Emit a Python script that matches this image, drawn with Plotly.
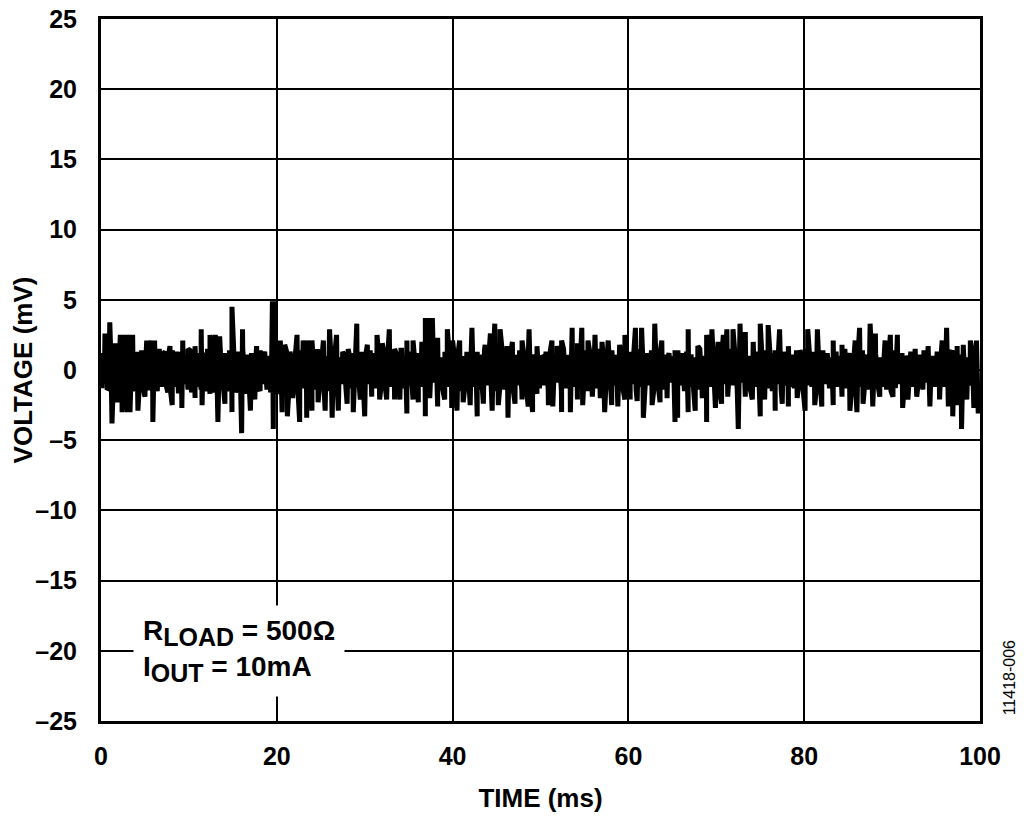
import plotly.graph_objects as go

# Upper excursions (time ms, voltage mV)
hi_t = [0.45, 1.0, 1.6, 2.2, 2.7, 3.1, 3.6, 4.1, 4.7, 5.2, 5.7, 6.1, 6.7, 7.3, 7.85, 8.6, 9.3, 9.9,
        10.7, 11.4, 11.8, 12.4, 13.0, 13.5, 14.1, 14.9, 15.5, 16.1, 16.7, 17.7, 18.4, 19.5, 19.8,
        20.4, 20.9, 21.5, 22.3, 23.0, 23.5, 24.0, 24.6, 25.3, 26.0, 26.8, 27.5, 28.3, 29.1, 29.7,
        30.3, 30.8, 31.4, 32.0, 32.8, 33.4, 34.2, 34.8, 35.5, 36.1, 36.5, 36.9, 37.3, 37.7, 38.3,
        39.4, 40.0, 40.8, 41.6, 42.2, 42.8, 43.7, 44.3, 44.8, 45.4, 46.2, 46.8, 47.3, 47.9, 48.7,
        49.1, 49.6, 50.3, 51.3, 51.9, 52.4, 53.0, 53.6, 54.2, 54.7, 55.4, 56.2, 57.0, 57.7, 58.5,
        59.0, 59.6, 60.2, 60.8, 61.5, 62.2, 63.0, 63.8, 64.5, 65.3, 65.5, 66.1, 66.8, 67.9, 68.9,
        69.5, 70.2, 70.8, 71.2, 71.9, 72.7, 73.3, 74.2, 75.0, 75.9, 76.7, 77.2, 78.2, 79.0, 79.5,
        80.4, 81.5, 82.0, 83.3, 84.3, 85.0, 85.8, 86.3, 86.9, 87.5, 88.1, 88.6, 89.2, 89.8, 90.6,
        91.1, 91.7, 92.6, 93.4, 94.1, 95.1, 95.7, 96.2, 96.8, 97.4, 98.1, 98.9, 99.6]
hi_v = [2.6, 3.4, 1.9, 2.5, 2.5, 2.5, 2.5, 1.3, 0.9, 2.1, 2.1, 2.1, 0.9, 1.3, 1.7, 1.3, 2.1, 1.5,
        1.7, 2.9, 1.2, 2.5, 2.5, 2.4, 0.9, 4.5, 0.9, 2.9, 0.7, 1.7, 0.9, 4.9, 4.9,
        2.1, 1.8, 1.3, 2.5, 2.1, 2.1, 2.1, 1.2, 2.1, 2.9, 2.5, 1.3, 0.9, 3.3, 0.9,
        1.8, 0.9, 2.5, 1.9, 2.9, 1.5, 1.4, 2.1, 2.1, 0.9, 2.0, 3.7, 3.7, 3.7, 2.3,
        2.9, 2.1, 2.1, 0.9, 3.0, 1.3, 1.8, 2.6, 3.3, 2.9, 1.7, 2.0, 0.9, 2.1, 2.9,
        0.9, 1.7, 0.9, 2.1, 1.7, 2.1, 0.9, 3.0, 1.9, 3.0, 2.1, 2.5, 2.0, 2.1, 0.9,
        1.8, 2.5, 0.9, 3.0, 3.0, 0.9, 3.3, 2.1, 0.9, 1.4, 1.3, 0.7, 2.9, 1.7, 2.5,
        2.9, 2.0, 2.5, 2.9, 2.9, 3.3, 2.7, 2.0, 3.3, 3.2, 1.4, 2.9, 1.7, 1.2, 1.4,
        2.9, 2.9, 0.9, 2.1, 1.8, 0.9, 2.1, 3.0, 0.9, 3.3, 2.6, 0.9, 2.1, 2.5, 2.5,
        0.9, 0.9, 1.3, 0.6, 1.7, 0.9, 2.1, 3.0, 1.4, 1.7, 1.8, 2.1, 2.1]

# Lower excursions (time ms, voltage mV)
lo_t = [0.1, 0.7, 1.25, 1.9, 2.4, 3.0, 3.3, 3.8, 4.2, 5.0, 5.5, 5.9, 6.4, 6.9, 7.6, 8.1, 8.8, 9.2,
        9.9, 10.3, 10.7, 11.5, 12.0, 12.4, 12.9, 13.3, 14.1, 14.5, 14.9, 15.3, 16.0, 16.4, 17.0,
        17.5, 18.1, 18.9, 19.3, 19.6, 20.1, 20.6, 21.2, 21.8, 22.6, 23.4, 24.0, 24.7, 25.5, 26.3,
        27.0, 28.0, 28.7, 29.5, 30.0, 30.8, 31.7, 32.5, 33.4, 34.0, 34.8, 35.5, 36.1, 36.9, 37.4,
        38.3, 39.1, 39.9, 40.5, 41.2, 42.0, 42.8, 43.5, 44.5, 45.2, 46.3, 47.1, 47.9, 48.6, 49.1,
        49.6, 50.9, 51.4, 52.4, 53.4, 54.2, 54.8, 55.9, 56.8, 57.3, 58.1, 58.8, 59.6, 60.2, 61.0,
        61.7, 62.7, 63.6, 64.4, 65.3, 65.6, 66.8, 67.6, 68.4, 68.9, 69.9, 70.6, 71.3, 72.5, 73.3,
        74.1, 75.0, 75.5, 76.7, 77.5, 78.2, 79.2, 80.1, 81.2, 82.0, 83.3, 84.3, 85.2, 86.0, 86.7,
        87.8, 88.6, 89.4, 90.1, 91.2, 91.8, 92.8, 93.5, 94.3, 95.4, 96.4, 96.9, 97.5, 97.9, 98.5,
        99.3, 99.8]
lo_v = [-1.3, -1.4, -3.8, -2.3, -3.0, -3.0, -3.0, -1.5, -2.9, -1.9, -1.4, -3.7, -1.5, -1.2, -1.6, -2.5, -1.5, -2.7,
        -1.4, -1.6, -2.0, -2.5, -1.5, -1.7, -1.6, -3.7, -2.4, -1.5, -3.0, -1.6, -4.5, -1.7, -2.9,
        -2.1, -1.5, -1.4, -1.6, -4.2, -1.7, -3.0, -3.3, -2.0, -3.7, -3.4, -2.9, -2.3, -2.9, -3.4,
        -2.9, -2.4, -3.0, -2.1, -3.3, -1.9, -2.1, -2.1, -2.1, -2.1, -3.1, -2.1, -2.3, -3.3, -2.0,
        -2.6, -2.1, -2.7, -2.9, -2.3, -2.5, -3.3, -2.4, -2.9, -2.5, -3.4, -2.4, -2.1, -2.6, -3.0,
        -1.7, -2.5, -2.6, -3.0, -3.0, -2.1, -2.5, -1.9, -2.0, -3.0, -2.5, -2.6, -2.1, -2.1, -2.2,
        -3.4, -2.5, -2.3, -2.0, -3.7, -3.4, -3.0, -2.9, -2.0, -3.7, -2.7, -2.4, -1.9, -4.2, -1.9,
        -2.1, -3.3, -2.1, -2.9, -2.4, -2.6, -2.0, -2.9, -2.5, -2.6, -2.5, -1.9, -2.9, -3.0, -2.4,
        -2.6, -1.9, -1.4, -1.9, -2.7, -2.1, -1.9, -1.4, -2.6, -2.1, -2.6, -3.3, -2.5, -4.2, -2.1,
        -2.7, -3.1]

# Dense core of the noise band, sampled every 0.25 ms (mV)
core_v = [
    1.2, -1.0, 1.4, -1.3, 0.9, -1.5, 1.1, -0.9, 1.3, -1.2, 1.5, -1.1, 1.0, -1.4, 1.2, -1.3, 0.8, -1.0, 1.4, -1.5,
    1.1, -1.2, 1.3, -0.9, 1.0, -1.4, 1.5, -1.1, 1.2, -1.0, 0.9, -1.3, 1.4, -1.2, 1.1, -1.5, 1.3, -1.0, 1.0, -1.1,
    1.4, -1.3, 0.9, -1.2, 1.2, -1.4, 1.0, -0.9, 1.5, -1.2, 1.1, -1.5, 1.3, -1.1, 0.8, -1.3, 1.2, -1.0, 1.4, -1.2,
    1.0, -1.4, 1.3, -1.1, 1.5, -0.9, 1.1, -1.3, 1.2, -1.5, 0.9, -1.2, 1.4, -1.0, 1.3, -1.4, 1.0, -1.1, 1.2, -1.3,
    1.5, -1.2, 1.1, -1.0, 1.3, -1.4, 0.9, -1.5, 1.2, -1.1, 1.4, -1.3, 1.0, -0.9, 1.3, -1.2, 1.1, -1.4, 1.5, -1.0,
    1.2, -1.3, 1.0, -1.5, 1.4, -1.1, 1.3, -1.2, 0.9, -1.0, 1.1, -1.4, 1.5, -1.3, 1.2, -0.9, 1.0, -1.2, 1.3, -1.5,
    1.1, -1.0, 1.4, -1.2, 1.2, -1.3, 0.9, -1.1, 1.5, -1.4, 1.0, -1.2, 1.3, -1.0, 1.1, -1.5, 1.4, -1.3, 0.8, -1.1,
    1.3, -1.4, 1.1, -1.0, 1.2, -1.2, 1.5, -1.3, 1.0, -1.5, 1.4, -0.9, 1.2, -1.1, 0.9, -1.4, 1.3, -1.2, 1.1, -1.0,
    1.4, -1.1, 1.2, -1.5, 1.0, -1.3, 1.3, -1.0, 1.5, -1.2, 0.9, -1.4, 1.1, -1.3, 1.4, -1.1, 1.2, -0.9, 1.0, -1.5,
    1.3, -1.2, 1.5, -1.4, 1.1, -1.0, 1.2, -1.3, 0.9, -1.1, 1.4, -1.5, 1.0, -1.2, 1.3, -1.4, 1.1, -1.0, 1.5, -1.3,
    1.0, -1.1, 1.3, -1.4, 1.4, -1.2, 1.1, -0.9, 1.2, -1.5, 1.5, -1.3, 0.9, -1.0, 1.3, -1.2, 1.0, -1.4, 1.2, -1.1,
    1.4, -1.5, 1.2, -1.0, 1.0, -1.3, 1.5, -1.2, 1.1, -1.4, 1.3, -0.9, 1.4, -1.1, 0.9, -1.5, 1.2, -1.3, 1.1, -1.2,
    1.3, -1.0, 1.1, -1.4, 1.5, -1.2, 1.0, -1.3, 1.2, -1.1, 1.4, -1.5, 0.9, -1.0, 1.3, -1.4, 1.1, -1.2, 1.2, -0.9,
    1.0, -1.3, 1.4, -1.1, 1.2, -1.5, 1.3, -1.2, 1.1, -1.0, 0.9, -1.4, 1.5, -1.3, 1.0, -1.1, 1.4, -1.2, 1.3, -1.5,
    1.2, -1.4, 1.0, -1.0, 1.3, -1.2, 1.5, -1.1, 1.1, -1.3, 1.4, -0.9, 1.2, -1.5, 1.0, -1.4, 0.9, -1.2, 1.3, -1.1,
    1.1, -1.2, 1.4, -1.3, 1.0, -1.5, 1.2, -1.0, 1.5, -1.4, 1.3, -1.1, 0.9, -1.2, 1.1, -1.3, 1.4, -1.0, 1.2, -1.4,
    1.5, -1.1, 1.0, -1.2, 1.3, -1.4, 1.1, -1.5, 1.4, -1.0, 1.2, -1.3, 0.9, -1.1, 1.3, -1.2, 1.0, -0.9, 1.5, -1.3,
    1.2, -1.0, 1.3, -1.5, 1.1, -1.2, 1.4, -1.1, 1.0, -1.4, 1.5, -1.3, 1.2, -1.0, 0.9, -1.2, 1.3, -1.4, 1.1, -1.5,
    1.4, -1.3, 1.1, -1.0, 1.2, -1.1, 1.0, -1.4, 1.3, -1.2, 1.5, -1.5, 1.1, -1.3, 1.4, -0.9, 1.2, -1.1, 1.0, -1.2,
    1.3, -1.1, 1.5, -1.2, 1.0, -1.4, 1.2, -1.3, 1.4, -1.0, 1.1, -1.5, 1.3, -1.2, 0.9, -1.1, 1.2, -1.4, 1.4, -1.2,
]
core_step = 0.25

x_ticks = [0, 20, 40, 60, 80, 100]
y_ticks = [25, 20, 15, 10, 5, 0, -5, -10, -15, -20, -25]
y_labels = ["25", "20", "15", "10", "5", "0", "–5", "–10", "–15", "–20", "–25"]

core_t = [core_step * (i + 0.5) for i in range(len(core_v))]
pts = sorted(list(zip(hi_t, hi_v)) + list(zip(lo_t, lo_v)) + list(zip(core_t, core_v)))
t = [p[0] for p in pts]
v = [p[1] for p in pts]

FONT = "Liberation Sans, Arial, sans-serif"

fig = go.Figure()
fig.add_trace(go.Scatter(x=t, y=v, mode="lines",
                         line=dict(color="black", width=5), hoverinfo="skip"))

fig.update_layout(
    width=1024, height=824,
    margin=dict(l=93, r=52, t=11, b=111),
    paper_bgcolor="white", plot_bgcolor="white",
    showlegend=False,
    font=dict(family=FONT, color="black"),
    xaxis=dict(range=[0, 100], tickvals=x_ticks, ticktext=[str(x) for x in x_ticks],
               showgrid=True, gridcolor="black", gridwidth=2,
               showline=True, linecolor="black", linewidth=3, mirror=True,
               zeroline=False, ticks="", ticklabelstandoff=11, automargin=False,
               ticklabeloverflow="allow",
               tickfont=dict(size=25, family=FONT, weight="bold"),
               title=dict(text="<b>TIME (ms)</b>", font=dict(size=26, family=FONT), standoff=20)),
    yaxis=dict(range=[-25, 25], tickvals=y_ticks, ticktext=y_labels,
               showgrid=True, gridcolor="black", gridwidth=2,
               showline=True, linecolor="black", linewidth=3, mirror=True,
               zeroline=False, ticks="", ticklabelstandoff=16, automargin=False,
               ticklabeloverflow="allow",
               tickfont=dict(size=25, family=FONT, weight="bold"),
               title=dict(text="<b>VOLTAGE (mV)</b>", font=dict(size=26, family=FONT), standoff=8)),
)

fig.add_annotation(
    xref="x", yref="y", x=3.64, y=-20, xanchor="left", yanchor="middle",
    align="left", showarrow=False, bgcolor="white", borderpad=9,
    text=("R<sub><span style='font-size:25px'>LOAD</span></sub> = 500Ω<br>"
          "I<sub><span style='font-size:25px'>OUT</span></sub> = 10mA"),
    font=dict(size=28, family=FONT, color="black", weight="bold"),
)
fig.add_annotation(
    xref="paper", yref="y", x=1.034, y=-21.9, xanchor="center", yanchor="middle",
    showarrow=False, textangle=-90, text="11418-006",
    font=dict(size=16, family=FONT, color="black"),
)

fig.write_html("out.html")
